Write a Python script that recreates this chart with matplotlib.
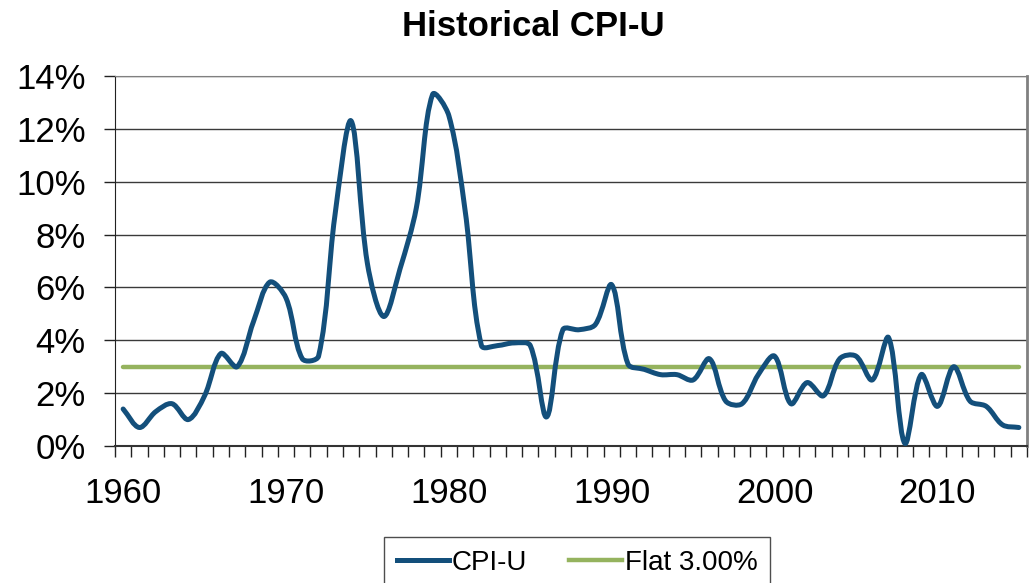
import matplotlib.pyplot as plt
from matplotlib.path import Path
from matplotlib.patches import PathPatch
from matplotlib.lines import Line2D
import numpy as np

plt.rcParams['font.family'] = ['Liberation Sans', 'DejaVu Sans']

# CPI-U annual change (%), 1960-2015
years = list(range(1960, 2016))
cpi = [1.4, 0.7, 1.3, 1.6, 1.0, 1.9, 3.5, 3.0, 4.7, 6.2,
       5.6, 3.3, 3.4, 8.7, 12.3, 6.9, 4.9, 6.7, 9.0, 13.3,
       12.5, 8.9, 3.8, 3.8, 3.9, 3.8, 1.1, 4.4, 4.4, 4.6,
       6.1, 3.1, 2.9, 2.7, 2.7, 2.5, 3.3, 1.7, 1.6, 2.7,
       3.4, 1.6, 2.4, 1.9, 3.3, 3.4, 2.5, 4.1, 0.1, 2.7,
       1.5, 3.0, 1.7, 1.5, 0.8, 0.7]
flat = [3.0] * len(years)
year_labels = ['1960', '1970', '1980', '1990', '2000', '2010']

blue = '#134F7B'
green = '#95B35E'

# pixel size of one year / one percent, used to weight the smoothing
XPX = 912 / 56.0
YPX = 370 / 14.0


def smooth_path(xs, ys):
    # excel-ish smoothed line: tangent scaled by neighbouring segment lengths
    pts = np.column_stack([xs, ys]).astype(float)
    scr = pts * [XPX, YPX]
    n = len(pts)

    def seg(i, j):
        return np.hypot(*(scr[j] - scr[i]))

    verts = [pts[0]]
    codes = [Path.MOVETO]
    for i in range(n - 1):
        i0, i3 = max(i - 1, 0), min(i + 2, n - 1)
        l01, l12, l23 = seg(i0, i), seg(i, i + 1), seg(i + 1, i3)
        c1 = pts[i] + (pts[i + 1] - pts[i0]) * l12 / (l01 + l12) / 3.0 if l01 > 0 else pts[i] + (pts[i + 1] - pts[i]) / 3.0
        c2 = pts[i + 1] - (pts[i3] - pts[i]) * l12 / (l12 + l23) / 3.0 if l23 > 0 else pts[i + 1] - (pts[i + 1] - pts[i]) / 3.0
        verts += [c1, c2, pts[i + 1]]
        codes += [Path.CURVE4] * 3
    return Path(verts, codes)


fig = plt.figure(figsize=(10.29, 5.83), dpi=100)
ax = fig.add_axes([115 / 1029, 1 - 446 / 583, 912 / 1029, 370 / 583])

x = np.arange(len(years))
ax.add_patch(PathPatch(smooth_path(x, cpi), facecolor='none', edgecolor=blue,
                       lw=3.6, capstyle='round', joinstyle='round', zorder=4))
ax.plot(x, flat, color=green, lw=3.2, solid_capstyle='round', zorder=3)

ax.set_xlim(-0.5, len(years) - 0.5)
ax.set_ylim(0, 14)

ax.set_yticks(np.arange(0, 15, 2))
ax.set_yticklabels(['%d%%' % v for v in range(0, 15, 2)])
ax.yaxis.grid(True, color='#3a3a3a', lw=1.0)
ax.set_axisbelow(True)

ax.set_xticks([years.index(int(y)) for y in year_labels])
ax.set_xticklabels(year_labels)
ax.set_xticks(np.arange(-0.5, len(years), 1), minor=True)
ax.tick_params(axis='x', which='major', length=0, pad=22, labelsize=25)
ax.tick_params(axis='x', which='minor', length=8, width=1, color='#222222', direction='out')
ax.tick_params(axis='y', which='major', length=8, width=1, pad=13, labelsize=25, color='#222222')

ax.spines['left'].set_color('#222222')
ax.spines['bottom'].set_color('#333333')
ax.spines['bottom'].set_linewidth(1.5)
ax.spines['top'].set_color('#808080')
ax.spines['right'].set_color('#808080')
ax.spines['right'].set_linewidth(2)

fig.text(533 / 1029, 1 - 26 / 583, 'Historical CPI-U', ha='center', va='center',
         fontsize=25, fontweight='bold')

handles = [Line2D([], [], color=blue, lw=3.6), Line2D([], [], color=green, lw=3.2)]
leg = fig.legend(handles, ['CPI-U', 'Flat 3.00%'], loc='upper center',
                 bbox_to_anchor=(577 / 1029, 1 - 537 / 583), ncol=2, fontsize=20,
                 frameon=True, fancybox=False, edgecolor='#222222',
                 handlelength=1.9, handletextpad=0.1, columnspacing=1.5,
                 borderpad=0.45, borderaxespad=0)
leg.get_frame().set_linewidth(1.0)

fig.savefig('out.png', dpi=100)
